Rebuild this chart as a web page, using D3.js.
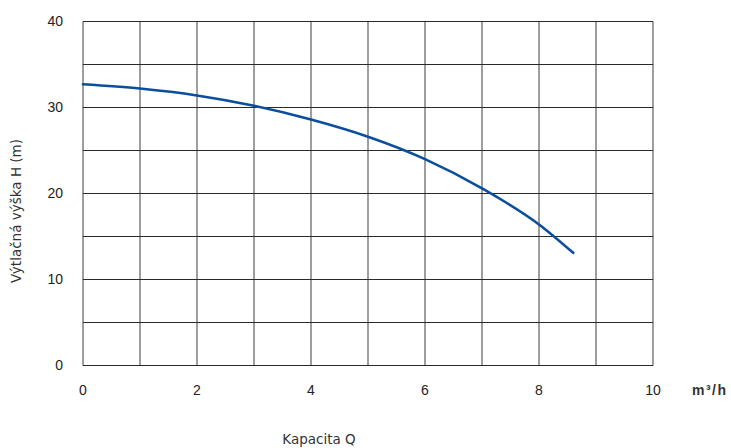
<!DOCTYPE html>
<html>
<head>
<meta charset="utf-8">
<script src="https://cdn.jsdelivr.net/npm/d3@7"></script>
<style>
    body { margin: 0; background: #fff; }
    text { font-family: "Liberation Sans", Arial, sans-serif; fill: #222; }
    text.title { font-family: "DejaVu Sans", sans-serif; fill: #333; }
</style>
</head>
<body>
<div id="chart"></div>
<script>
// Q-H curve of the pump
const flow = [0, 1, 2, 3, 4, 5, 6, 7, 8, 8.6];
const head = [32.7, 32.2, 31.4, 30.2, 28.6, 26.6, 24.0, 20.6, 16.4, 13.1];

const xTicks = [0, 2, 4, 6, 8, 10];
const yTicks = [0, 10, 20, 30, 40];
const xGrid = d3.range(0, 11, 1);
const yGrid = d3.range(0, 41, 5);

const W = 731, H = 448;
const margin = {left: 83, right: 78, top: 21.5, bottom: 82.5};

const svg = d3.select('#chart')
    .append('svg')
    .attr('width', W)
    .attr('height', H);

const x = d3.scaleLinear().domain([0, 10]).range([margin.left, W - margin.right]);
const y = d3.scaleLinear().domain([0, 40]).range([H - margin.bottom, margin.top]);

// grid
svg.append('g')
    .selectAll('line')
    .data(xGrid)
    .join('line')
    .attr('x1', d => x(d)).attr('x2', d => x(d))
    .attr('y1', y(0)).attr('y2', y(40))
    .attr('stroke', '#6a6a6a')
    .attr('stroke-width', 1.3);

svg.append('g')
    .selectAll('line')
    .data(yGrid)
    .join('line')
    .attr('x1', x(0)).attr('x2', x(10))
    .attr('y1', d => y(d)).attr('y2', d => y(d))
    .attr('stroke', '#2a2a2a')
    .attr('stroke-width', 1.1);

// tick labels
svg.append('g')
    .selectAll('text')
    .data(yTicks)
    .join('text')
    .attr('x', 63)
    .attr('y', d => y(d))
    .attr('dy', '0.35em')
    .attr('text-anchor', 'end')
    .attr('font-size', 14)
    .text(d => d);

svg.append('g')
    .selectAll('text')
    .data(xTicks)
    .join('text')
    .attr('x', d => x(d))
    .attr('y', 390)
    .attr('dy', '0.35em')
    .attr('text-anchor', 'middle')
    .attr('font-size', 14)
    .text(d => d);

svg.append('text')
    .attr('x', 692)
    .attr('y', 390)
    .attr('dy', '0.35em')
    .attr('font-size', 14)
    .attr('font-weight', 'bold')
    .attr('letter-spacing', 1.5)
    .style('fill', '#333')
    .text('m³/h');

// axis titles
svg.append('text')
    .attr('class', 'title')
    .attr('x', 319)
    .attr('y', 444)
    .attr('text-anchor', 'middle')
    .attr('font-size', 13.5)
    .text('Kapacita Q');

svg.append('text')
    .attr('class', 'title')
    .attr('transform', 'translate(21,211) rotate(-90)')
    .attr('text-anchor', 'middle')
    .attr('font-size', 13.5)
    .text('Výtlačná výška H (m)');

// curve
const line = d3.line()
    .x(d => x(d[0]))
    .y(d => y(d[1]))
    .curve(d3.curveMonotoneX);

svg.append('path')
    .datum(d3.zip(flow, head))
    .attr('d', line)
    .attr('fill', 'none')
    .attr('stroke', '#0b4f9c')
    .attr('stroke-width', 2.6)
    .attr('stroke-linecap', 'round');
</script>
</body>
</html>
